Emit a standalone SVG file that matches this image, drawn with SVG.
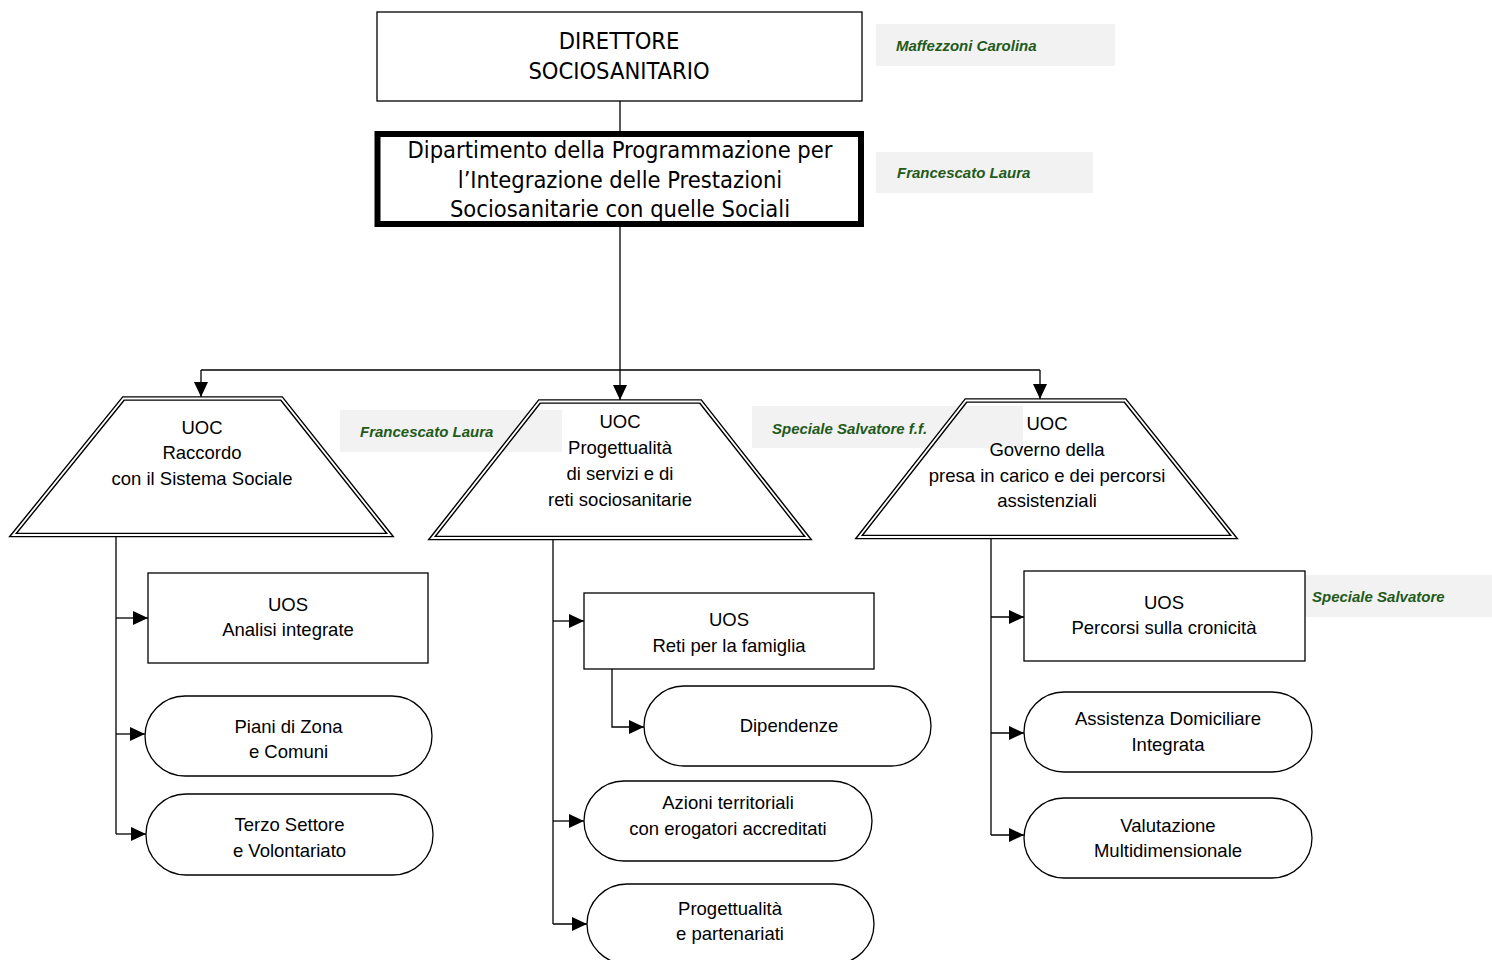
<svg xmlns="http://www.w3.org/2000/svg" width="1492" height="960" viewBox="0 0 1492 960">
<defs>
<marker id="arr" markerUnits="userSpaceOnUse" markerWidth="15" markerHeight="14" refX="15" refY="7" orient="auto">
<path d="M0,0 L15,7 L0,14 z" fill="#000"/>
</marker>
<style>
.box{fill:#fff;stroke:#000;stroke-width:1.3}
.thick{fill:#fff;stroke:#000;stroke-width:6}
.tro{fill:none;stroke:#000;stroke-width:4.6;stroke-linejoin:miter}
.tri{fill:none;stroke:#fff;stroke-width:1.8;stroke-linejoin:miter}
.lbl{fill:#f2f2f2}
.lt{font-family:"Liberation Sans",Arial,sans-serif;font-size:15px;font-weight:bold;font-style:italic;fill:#1f5a1a}
.tt{font-family:"DejaVu Sans Condensed","DejaVu Sans",sans-serif;font-stretch:condensed;font-size:23.5px;fill:#000;text-anchor:middle}
.nt{font-family:"Liberation Sans",Arial,sans-serif;font-size:18.5px;fill:#000;text-anchor:middle}
.con{fill:none;stroke:#000;stroke-width:1.3}
</style>
</defs>
<rect width="1492" height="960" fill="#fff"/>

<g id="labels">
<g id="lbl-maffezzoni"><rect class="lbl" x="876" y="24" width="239" height="42"/><text class="lt" x="896" y="51">Maffezzoni Carolina</text></g>
<g id="lbl-francescato1"><rect class="lbl" x="876" y="152" width="217" height="41"/><text class="lt" x="897" y="178">Francescato Laura</text></g>
<g id="lbl-francescato2"><rect class="lbl" x="340" y="410" width="222" height="42"/><text class="lt" x="360" y="437">Francescato Laura</text></g>
<g id="lbl-speciale-ff"><rect class="lbl" x="752" y="406" width="271" height="42"/><text class="lt" x="772" y="434">Speciale Salvatore f.f.</text></g>
<g id="lbl-speciale"><rect class="lbl" x="1292" y="575" width="200" height="42"/><text class="lt" x="1312" y="602">Speciale Salvatore</text></g>
</g>

<g id="connectors">
<path class="con" d="M620 101 V131"/>
<path class="con" d="M620 227 V400" marker-end="url(#arr)"/>
<path class="con" d="M201 370 H1040"/>
<path class="con" d="M201 370 V397" marker-end="url(#arr)"/>
<path class="con" d="M1040 370 V399" marker-end="url(#arr)"/>
<path class="con" d="M116 537 V834"/>
<path class="con" d="M116 618 H148" marker-end="url(#arr)"/>
<path class="con" d="M116 734 H145" marker-end="url(#arr)"/>
<path class="con" d="M116 834 H146" marker-end="url(#arr)"/>
<path class="con" d="M553 540 V924"/>
<path class="con" d="M553 621 H584" marker-end="url(#arr)"/>
<path class="con" d="M553 821 H584" marker-end="url(#arr)"/>
<path class="con" d="M553 924 H587" marker-end="url(#arr)"/>
<path class="con" d="M612 669 V727 H644" marker-end="url(#arr)"/>
<path class="con" d="M991 539 V835"/>
<path class="con" d="M991 617 H1024" marker-end="url(#arr)"/>
<path class="con" d="M991 733 H1024" marker-end="url(#arr)"/>
<path class="con" d="M991 835 H1024" marker-end="url(#arr)"/>
</g>

<g id="direttore">
<rect class="box" x="377" y="12" width="485" height="89"/>
<text class="tt" x="619" y="49">DIRETTORE</text>
<text class="tt" x="619" y="79">SOCIOSANITARIO</text>
</g>

<g id="dipartimento">
<rect class="thick" x="377.5" y="134" width="483.5" height="90"/>
<text class="tt" x="620" y="158">Dipartimento della Programmazione per</text>
<text class="tt" x="620" y="188">l’Integrazione delle Prestazioni</text>
<text class="tt" x="620" y="217">Sociosanitarie con quelle Sociali</text>
</g>

<g id="uoc-raccordo">
<path class="tro" d="M123.5 398.5 H281.5 L390 535 H13 Z"/>
<path class="tri" d="M123.5 398.5 H281.5 L390 535 H13 Z"/>
<text class="nt" x="202" y="434">UOC</text>
<text class="nt" x="202" y="459">Raccordo</text>
<text class="nt" x="202" y="485">con il Sistema Sociale</text>
</g>

<g id="uoc-progettualita">
<path class="tro" d="M539.5 401.5 H700.5 L808 538 H432 Z"/>
<path class="tri" d="M539.5 401.5 H700.5 L808 538 H432 Z"/>
<text class="nt" x="620" y="428">UOC</text>
<text class="nt" x="620" y="454">Progettualità</text>
<text class="nt" x="620" y="480">di servizi e di</text>
<text class="nt" x="620" y="506">reti sociosanitarie</text>
</g>

<g id="uoc-governo">
<path class="tro" d="M966 400.5 H1125 L1234 537 H859 Z"/>
<path class="tri" d="M966 400.5 H1125 L1234 537 H859 Z"/>
<text class="nt" x="1047" y="430">UOC</text>
<text class="nt" x="1047" y="456">Governo della</text>
<text class="nt" x="1047" y="482">presa in carico e dei percorsi</text>
<text class="nt" x="1047" y="507">assistenziali</text>
</g>

<g id="uos-analisi">
<rect class="box" x="148" y="573" width="280" height="90"/>
<text class="nt" x="288" y="611">UOS</text>
<text class="nt" x="288" y="636">Analisi integrate</text>
</g>
<g id="piani-zona">
<rect class="box" x="145" y="696" width="287" height="80" rx="40"/>
<text class="nt" x="288.5" y="733">Piani di Zona</text>
<text class="nt" x="288.5" y="758">e Comuni</text>
</g>
<g id="terzo-settore">
<rect class="box" x="146" y="794" width="287" height="81" rx="40"/>
<text class="nt" x="289.5" y="831">Terzo Settore</text>
<text class="nt" x="289.5" y="857">e Volontariato</text>
</g>

<g id="uos-reti">
<rect class="box" x="584" y="593" width="290" height="76"/>
<text class="nt" x="729" y="626">UOS</text>
<text class="nt" x="729" y="652">Reti per la famiglia</text>
</g>
<g id="dipendenze">
<rect class="box" x="644" y="686" width="287" height="80" rx="40"/>
<text class="nt" x="789" y="732">Dipendenze</text>
</g>
<g id="azioni-territoriali">
<rect class="box" x="584" y="781" width="288" height="80" rx="40"/>
<text class="nt" x="728" y="809">Azioni territoriali</text>
<text class="nt" x="728" y="835">con erogatori accreditati</text>
</g>
<g id="progettualita-partenariati">
<rect class="box" x="587" y="884" width="287" height="80" rx="40"/>
<text class="nt" x="730" y="915">Progettualità</text>
<text class="nt" x="730" y="940">e partenariati</text>
</g>

<g id="uos-percorsi">
<rect class="box" x="1024" y="571" width="281" height="90"/>
<text class="nt" x="1164" y="609">UOS</text>
<text class="nt" x="1164" y="634">Percorsi sulla cronicità</text>
</g>
<g id="assistenza-domiciliare">
<rect class="box" x="1024" y="692" width="288" height="80" rx="40"/>
<text class="nt" x="1168" y="725">Assistenza Domiciliare</text>
<text class="nt" x="1168" y="751">Integrata</text>
</g>
<g id="valutazione">
<rect class="box" x="1024" y="798" width="288" height="80" rx="40"/>
<text class="nt" x="1168" y="832">Valutazione</text>
<text class="nt" x="1168" y="857">Multidimensionale</text>
</g>
</svg>
